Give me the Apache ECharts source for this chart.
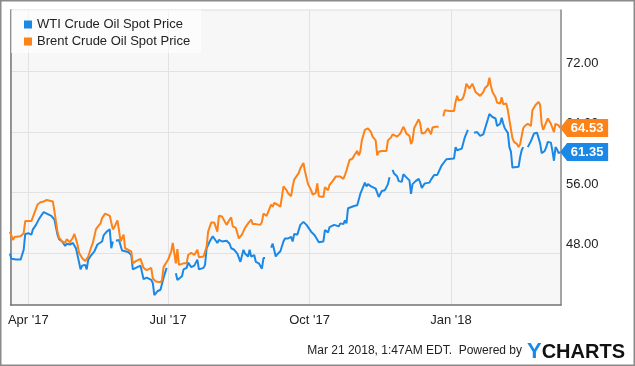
<!DOCTYPE html>
<html>
<head>
<meta charset="utf-8">
<script src="https://cdn.jsdelivr.net/npm/echarts@6/dist/echarts.min.js"></script>
<style>
  html, body { margin: 0; padding: 0; background: #fff; }
  #chart { width: 635px; height: 366px; }
</style>
</head>
<body>
<div id="chart"></div>
<script>
// ---------------- data ----------------
const seriesNames = ['WTI Crude Oil Spot Price', 'Brent Crude Oil Spot Price'];
const xTickDates = ['2017-04-01', '2017-07-01', '2017-10-01', '2018-01-01'];
const xTickLabels = ["Apr '17", "Jul '17", "Oct '17", "Jan '18"];
const yTickValues = [48, 56, 64, 72];
const footerText = 'Mar 21 2018, 1:47AM EDT.  Powered by';

const wtiDates = [
 '2017-03-20','2017-03-21','2017-03-22','2017-03-24','2017-03-25','2017-03-27','2017-03-29','2017-03-30','2017-04-01','2017-04-03',
 '2017-04-04','2017-04-06','2017-04-08','2017-04-11','2017-04-13','2017-04-16','2017-04-18','2017-04-20','2017-04-21','2017-04-23',
 '2017-04-25','2017-04-26','2017-04-28','2017-04-30','2017-05-02','2017-05-03','2017-05-05','2017-05-06','2017-05-08','2017-05-09',
 '2017-05-10','2017-05-12','2017-05-14','2017-05-16','2017-05-19','2017-05-20','2017-05-22','2017-05-24','2017-05-25','2017-05-26',
 '2017-05-27','2017-05-28','2017-05-30','2017-06-01','2017-06-03','2017-06-05','2017-06-07','2017-06-08','2017-06-10','2017-06-13',
 '2017-06-15','2017-06-17','2017-06-20','2017-06-21','2017-06-22','2017-06-24','2017-06-26','2017-06-28','2017-06-29','2017-06-30',
 '2017-07-03','2017-07-06','2017-07-07','2017-07-08','2017-07-10','2017-07-11','2017-07-13','2017-07-14','2017-07-16','2017-07-18',
 '2017-07-20','2017-07-21','2017-07-24','2017-07-25','2017-07-26','2017-07-28','2017-07-30','2017-07-31','2017-08-02','2017-08-03',
 '2017-08-05','2017-08-08','2017-08-10','2017-08-11','2017-08-13','2017-08-15','2017-08-17','2017-08-19','2017-08-20','2017-08-22',
 '2017-08-23','2017-08-24','2017-08-26','2017-08-27','2017-08-29','2017-08-31','2017-09-01','2017-09-02','2017-09-04','2017-09-06',
 '2017-09-07','2017-09-09','2017-09-10','2017-09-12','2017-09-14','2017-09-15','2017-09-17','2017-09-19','2017-09-20','2017-09-21',
 '2017-09-23','2017-09-25','2017-09-26','2017-09-27','2017-09-29','2017-09-30','2017-10-02','2017-10-04','2017-10-05','2017-10-07',
 '2017-10-08','2017-10-10','2017-10-11','2017-10-13','2017-10-14','2017-10-15','2017-10-17','2017-10-18','2017-10-20','2017-10-21',
 '2017-10-22','2017-10-23','2017-10-24','2017-10-25','2017-10-26','2017-10-27','2017-10-30','2017-11-01','2017-11-02','2017-11-03',
 '2017-11-05','2017-11-06','2017-11-07','2017-11-08','2017-11-10','2017-11-11','2017-11-13','2017-11-15','2017-11-16','2017-11-17',
 '2017-11-19','2017-11-20','2017-11-21','2017-11-22','2017-11-23','2017-11-24','2017-11-25','2017-11-27','2017-11-28','2017-11-30',
 '2017-12-01','2017-12-03','2017-12-04','2017-12-05','2017-12-06','2017-12-07','2017-12-09','2017-12-11','2017-12-12','2017-12-13',
 '2017-12-15','2017-12-16','2017-12-18','2017-12-19','2017-12-21','2017-12-23','2017-12-24','2017-12-26','2017-12-27','2017-12-29',
 '2017-12-30','2018-01-03','2018-01-04','2018-01-05','2018-01-08','2018-01-09','2018-01-10','2018-01-11','2018-01-12','2018-01-14',
 '2018-01-16','2018-01-18','2018-01-20','2018-01-22','2018-01-23','2018-01-25','2018-01-26','2018-01-28','2018-01-30','2018-01-31',
 '2018-02-02','2018-02-03','2018-02-04','2018-02-05','2018-02-07','2018-02-08','2018-02-09','2018-02-10','2018-02-11','2018-02-14',
 '2018-02-15','2018-02-16','2018-02-17','2018-02-19','2018-02-20','2018-02-21','2018-02-22','2018-02-24','2018-02-26','2018-02-28',
 '2018-03-01','2018-03-03','2018-03-04','2018-03-05','2018-03-07','2018-03-08','2018-03-09','2018-03-10','2018-03-11','2018-03-12',
 '2018-03-13'
];
const wtiValues = [
 47.9,47.2,47.3,47.1,47.3,47.1,48.4,50.5,50.6,50.4,
 51.1,51.7,52.5,53.4,53.2,52.9,52.4,50.4,49.8,49.5,
 48.9,49.2,49.1,49.3,48.6,47.7,45.8,46.3,46.4,45.8,
 47.1,47.7,48.2,49.1,49.5,50.3,50.8,51.1,48.6,49.5,
 null,49.6,49.7,48.3,48.2,48.1,47.7,45.8,46.0,46.3,
 44.5,44.7,44.4,44.0,42.4,42.9,43.1,44.7,44.9,46.0,
 null,45.3,44.4,44.2,44.9,45.8,46.0,46.7,46.1,46.3,
 47.1,45.8,46.0,46.4,48.6,49.5,50.2,50.2,49.3,49.7,
 49.5,49.6,49.2,48.6,48.4,47.9,46.8,48.4,47.9,47.5,
 48.4,47.5,47.7,46.8,46.6,45.9,47.3,47.3,null,48.7,
 49.2,47.5,47.8,48.2,49.5,49.9,49.9,50.1,49.5,50.5,
 50.4,51.7,51.7,52.1,51.7,51.5,50.8,50.4,50.1,49.4,
 49.5,49.5,51.0,50.7,51.4,51.4,51.7,51.9,51.5,51.9,
 51.9,51.8,52.3,51.9,53.9,54.1,54.2,54.3,54.5,55.8,
 56.8,57.3,56.8,57.1,56.8,57.0,56.5,55.4,55.2,56.2,
 56.3,56.3,57.1,58.0,null,59.0,58.5,58.1,57.5,57.4,
 58.4,58.0,57.8,57.6,55.8,57.1,57.5,57.8,57.3,56.6,
 57.2,57.1,57.3,57.7,58.3,58.3,58.3,59.6,59.8,60.4,
 60.5,60.5,62.0,61.6,61.8,61.8,63.3,63.8,64.3,null,
 63.9,64.0,63.5,63.7,63.8,65.7,66.4,66.0,65.8,64.8,
 65.1,65.9,65.1,64.5,63.9,62.0,61.4,59.3,59.4,59.4,
 60.7,61.6,62.0,null,62.0,61.8,62.8,63.8,63.9,62.5,
 61.2,61.5,62.0,62.7,62.6,61.5,60.2,62.0,61.7,61.2,
 61.35
];

const brentDates = [
 '2017-03-20','2017-03-22','2017-03-23','2017-03-27','2017-03-29','2017-03-30','2017-04-01','2017-04-03','2017-04-05','2017-04-07',
 '2017-04-09','2017-04-11','2017-04-13','2017-04-15','2017-04-17','2017-04-18','2017-04-20','2017-04-21','2017-04-23','2017-04-25',
 '2017-04-26','2017-04-28','2017-04-30','2017-05-01','2017-05-03','2017-05-04','2017-05-06','2017-05-08','2017-05-10','2017-05-12',
 '2017-05-13','2017-05-15','2017-05-16','2017-05-18','2017-05-19','2017-05-21','2017-05-22','2017-05-24','2017-05-26','2017-05-27',
 '2017-05-28','2017-05-29','2017-05-30','2017-05-31','2017-06-02','2017-06-03','2017-06-04','2017-06-07','2017-06-08','2017-06-10',
 '2017-06-13','2017-06-15','2017-06-17','2017-06-20','2017-06-21','2017-06-23','2017-06-26','2017-06-27','2017-06-28','2017-06-29',
 '2017-07-01','2017-07-03','2017-07-04','2017-07-06','2017-07-07','2017-07-08','2017-07-11','2017-07-13','2017-07-14','2017-07-16',
 '2017-07-18','2017-07-20','2017-07-21','2017-07-24','2017-07-26','2017-07-27','2017-07-29','2017-07-31','2017-08-02','2017-08-03',
 '2017-08-05','2017-08-08','2017-08-10','2017-08-11','2017-08-12','2017-08-14','2017-08-16','2017-08-18','2017-08-20','2017-08-22',
 '2017-08-24','2017-08-25','2017-08-27','2017-08-30','2017-08-31','2017-09-01','2017-09-03','2017-09-04','2017-09-06','2017-09-07',
 '2017-09-08','2017-09-10','2017-09-12','2017-09-13','2017-09-14','2017-09-16','2017-09-17','2017-09-19','2017-09-20','2017-09-21',
 '2017-09-24','2017-09-25','2017-09-27','2017-09-28','2017-09-29','2017-09-30','2017-10-02','2017-10-03','2017-10-05','2017-10-06',
 '2017-10-07','2017-10-10','2017-10-11','2017-10-13','2017-10-14','2017-10-16','2017-10-18','2017-10-19','2017-10-21','2017-10-23',
 '2017-10-24','2017-10-25','2017-10-27','2017-10-29','2017-10-30','2017-11-01','2017-11-02','2017-11-03','2017-11-04','2017-11-06',
 '2017-11-07','2017-11-08','2017-11-09','2017-11-10','2017-11-11','2017-11-13','2017-11-14','2017-11-15','2017-11-17','2017-11-20',
 '2017-11-21','2017-11-23','2017-11-24','2017-11-25','2017-11-27','2017-11-29','2017-11-30','2017-12-01','2017-12-02','2017-12-03',
 '2017-12-04','2017-12-05','2017-12-06','2017-12-07','2017-12-08','2017-12-09','2017-12-11','2017-12-12','2017-12-13','2017-12-15',
 '2017-12-16','2017-12-17','2017-12-18','2017-12-19','2017-12-20','2017-12-22','2017-12-24','2017-12-25','2017-12-27','2017-12-28',
 '2017-12-31','2018-01-03','2018-01-04','2018-01-05','2018-01-06','2018-01-08','2018-01-09','2018-01-10','2018-01-11','2018-01-13',
 '2018-01-14','2018-01-15','2018-01-17','2018-01-18','2018-01-20','2018-01-22','2018-01-23','2018-01-25','2018-01-26','2018-01-27',
 '2018-01-28','2018-01-30','2018-01-31','2018-02-02','2018-02-03','2018-02-04','2018-02-06','2018-02-07','2018-02-08','2018-02-10',
 '2018-02-11','2018-02-13','2018-02-14','2018-02-15','2018-02-17','2018-02-18','2018-02-20','2018-02-22','2018-02-23','2018-02-25',
 '2018-02-27','2018-02-28','2018-03-01','2018-03-02','2018-03-03','2018-03-05','2018-03-07','2018-03-08','2018-03-09','2018-03-10',
 '2018-03-12','2018-03-13'
];
const brentValues = [
 50.8,49.7,50.1,50.2,50.6,52.2,52.2,52.2,53.3,54.4,
 54.7,54.8,55.0,54.9,54.8,53.5,50.8,50.0,49.5,49.3,
 49.8,49.4,50.0,50.5,49.1,48.0,47.3,46.9,47.5,48.8,
 49.3,51.1,51.4,51.9,52.6,53.2,53.4,52.9,51.1,51.4,
 51.5,52.3,51.0,49.5,50.4,48.6,48.4,48.2,46.6,46.9,
 47.2,46.0,45.7,46.0,44.6,44.2,44.1,44.4,46.1,46.2,
 47.1,48.2,49.3,46.6,48.5,46.4,46.6,46.6,47.7,48.0,
 47.7,48.4,47.4,47.5,48.8,50.8,52.0,52.0,50.8,52.9,
 52.8,51.7,52.4,52.7,51.5,51.3,49.9,50.4,51.3,51.9,
 52.4,51.8,51.8,51.7,52.1,53.2,52.9,52.7,54.4,54.1,
 54.6,54.4,54.1,55.4,56.8,56.3,55.9,55.5,56.8,57.7,
 58.6,59.2,59.9,58.8,58.9,57.1,56.3,55.7,55.9,57.2,
 55.5,55.4,56.7,56.3,57.0,57.5,58.1,57.9,58.1,57.8,
 58.3,58.9,60.3,60.5,60.9,61.5,60.9,61.4,62.9,64.3,
 64.2,64.5,64.3,64.0,63.4,62.9,60.9,61.4,61.5,61.5,
 62.9,63.3,63.7,63.5,63.4,63.8,63.7,64.7,64.3,63.8,
 63.6,63.5,62.4,62.9,64.5,64.9,65.7,65.1,63.8,63.9,
 64.0,64.5,64.3,63.7,64.6,64.7,64.7,null,66.1,66.9,
 66.8,66.8,68.0,68.8,68.2,68.3,68.6,69.3,70.4,69.8,
 70.1,70.4,69.3,69.5,68.8,69.3,69.8,70.2,71.2,70.1,
 69.3,68.6,67.9,67.8,68.6,67.7,67.8,66.9,65.6,63.2,
 62.7,62.4,62.0,62.4,64.5,64.8,65.1,64.8,66.9,67.6,
 68.0,67.6,65.1,64.3,64.5,65.8,65.1,65.1,64.0,65.1,
 64.9,64.53
];

// ---------------- styling ----------------
const BLUE = '#1c88e6';
const ORANGE = '#fd8217';
const FONT = 'Liberation Sans, Arial, sans-serif';

function ts(s) {
  const p = s.split(/[- :]/).map(Number);
  return new Date(p[0], p[1] - 1, p[2], p[3] || 0, p[4] || 0).getTime();
}
function pairs(dates, values) {
  return dates.map((d, i) => [ts(d), values[i]]);
}
const xTickTs = xTickDates.map(ts);
const tagPath = 'path://M0 9 L7 0 L48 0 L48 18 L7 18 Z';

function tag(dates, values, color) {
  const i = values.length - 1;
  return {
    silent: true,
    symbol: tagPath,
    symbolSize: [48, 18],
    symbolOffset: [24, 0],
    itemStyle: { color: color },
    label: {
      show: true, position: 'inside', offset: [3, 0],
      color: '#fff', fontWeight: 'bold', fontSize: 13, fontFamily: FONT,
      formatter: (prm) => Number(prm.value).toFixed(2)
    },
    data: [{ coord: [ts(dates[i]), values[i]], value: values[i] }]
  };
}

const chart = echarts.init(document.getElementById('chart'), null, { renderer: 'canvas' });

const yMin = 41.08, yMax = 80.18;

chart.setOption({
  animation: false,
  backgroundColor: '#fff',
  textStyle: { fontFamily: FONT },
  grid: {
    left: 10.5, right: 74, top: 10, bottom: 61,
    show: true, backgroundColor: '#f7f7f7', borderColor: '#dcdcdc', borderWidth: 1,
    containLabel: false
  },
  legend: {
    orient: 'vertical', left: 11, top: 10,
    padding: [8, 11, 5, 13], itemGap: 4,
    itemWidth: 8, itemHeight: 8, icon: 'rect',
    backgroundColor: 'rgba(255,255,255,0.6)',
    textStyle: { fontSize: 13, color: '#222', fontFamily: FONT },
    data: seriesNames
  },
  xAxis: {
    type: 'value',
    min: ts('2017-03-20 10:00'), max: ts('2018-03-13 14:00'),
    axisLine: { show: true, onZero: false, lineStyle: { color: '#777', width: 1.5 } },
    axisTick: { show: false, customValues: xTickTs },
    axisLabel: {
      customValues: xTickTs, margin: 9, fontSize: 13, color: '#222', fontFamily: FONT,
      formatter: (v) => {
        const i = xTickTs.findIndex((t) => Math.abs(t - v) < 86400000);
        return i >= 0 ? xTickLabels[i] : '';
      }
    },
    splitLine: { show: true, lineStyle: { color: '#e2e2e2', width: 1 } }
  },
  yAxis: [{
    type: 'value', position: 'right', min: yMin, max: yMax,
    axisLine: { show: true, onZero: false, lineStyle: { color: '#8c8c8c', width: 1.5 } },
    axisTick: { show: false, customValues: yTickValues },
    axisLabel: {
      customValues: yTickValues, margin: 5, fontSize: 13, color: '#222', fontFamily: FONT,
      verticalAlign: 'bottom', padding: [0, 0, 2, 0],
      formatter: (v) => Number(v).toFixed(2)
    },
    splitLine: { show: true, lineStyle: { color: '#e2e2e2', width: 1 } }
  }, {
    type: 'value', position: 'left', min: yMin, max: yMax,
    axisLine: { show: true, onZero: false, lineStyle: { color: '#777', width: 1.5 } },
    axisTick: { show: false }, axisLabel: { show: false }, splitLine: { show: false }
  }],
  series: [{
    name: seriesNames[0], type: 'line', yAxisIndex: 0,
    data: pairs(wtiDates, wtiValues),
    showSymbol: false, connectNulls: false,
    lineStyle: { color: BLUE, width: 2 }, itemStyle: { color: BLUE },
    markPoint: tag(wtiDates, wtiValues, BLUE)
  }, {
    name: seriesNames[1], type: 'line', yAxisIndex: 0,
    data: pairs(brentDates, brentValues),
    showSymbol: false, connectNulls: false,
    lineStyle: { color: ORANGE, width: 2 }, itemStyle: { color: ORANGE },
    markPoint: tag(brentDates, brentValues, ORANGE)
  }],
  graphic: [{
    type: 'rect', silent: true, z: 100,
    shape: { x: 0.75, y: 0.75, width: 633.5, height: 364.5 },
    style: { fill: 'none', stroke: '#8a8a8a', lineWidth: 1.5 }
  }, {
    type: 'text', right: 113, top: 345,
    style: { text: footerText, fontSize: 12, fill: '#222', fontFamily: FONT }
  }, {
    type: 'text', right: 10, top: 341,
    style: {
      text: '{y|Y}{c|CHARTS}',
      rich: {
        y: { fontSize: 22, fontWeight: 'bold', fill: '#1c88e6', fontFamily: FONT },
        c: { fontSize: 20, fontWeight: 'bold', fill: '#111', fontFamily: FONT }
      }
    }
  }]
});
</script>
</body>
</html>
